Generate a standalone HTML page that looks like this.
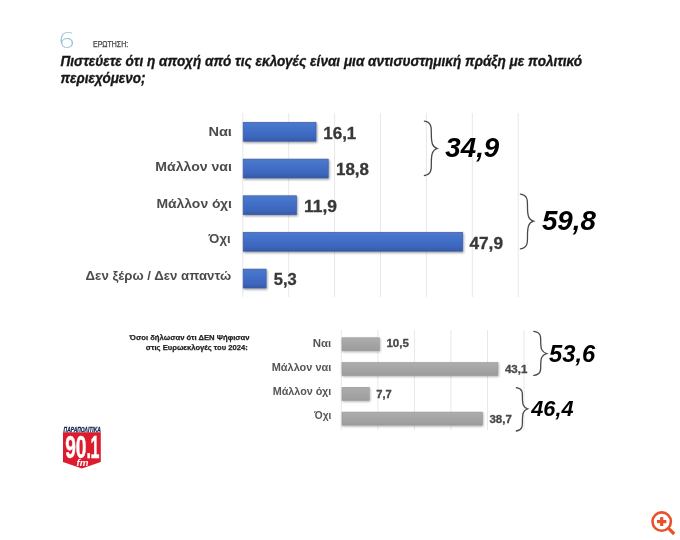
<!DOCTYPE html>
<html lang="el"><head><meta charset="utf-8"><title>Ερώτηση 6</title>
<style>
html,body{margin:0;padding:0;background:#fff;}
body{width:680px;height:540px;overflow:hidden;}
svg{display:block;font-family:"Liberation Sans", sans-serif;}
</style></head><body>
<svg width="680" height="540" viewBox="0 0 680 540">
<defs>
<linearGradient id="bg" x1="0" y1="0" x2="0" y2="1"><stop offset="0" stop-color="#5079c4"/><stop offset="0.2" stop-color="#4675cd"/><stop offset="0.8" stop-color="#3b65bc"/><stop offset="1" stop-color="#38589f"/></linearGradient>
<linearGradient id="gg" x1="0" y1="0" x2="0" y2="1"><stop offset="0" stop-color="#adadad"/><stop offset="1" stop-color="#9c9c9c"/></linearGradient>
<filter id="sh" x="-10%" y="-30%" width="120%" height="180%"><feDropShadow dx="0.8" dy="1.2" stdDeviation="1.1" flood-color="#000" flood-opacity="0.42"/></filter>
<filter id="sh2" x="-10%" y="-30%" width="120%" height="180%"><feDropShadow dx="0.6" dy="1" stdDeviation="0.9" flood-color="#000" flood-opacity="0.3"/></filter>
<filter id="soft" x="0" y="0" width="100%" height="100%" filterUnits="userSpaceOnUse"><feGaussianBlur stdDeviation="0.5"/></filter>
</defs>
<rect width="680" height="540" fill="#fff"/>
<g filter="url(#soft)">
<line x1="242.8" y1="113" x2="242.8" y2="297" stroke="#e8e8e8" stroke-width="1"/>
<line x1="288.7" y1="113" x2="288.7" y2="297" stroke="#e8e8e8" stroke-width="1"/>
<line x1="334.6" y1="113" x2="334.6" y2="297" stroke="#e8e8e8" stroke-width="1"/>
<line x1="380.5" y1="113" x2="380.5" y2="297" stroke="#e8e8e8" stroke-width="1"/>
<line x1="426.4" y1="113" x2="426.4" y2="297" stroke="#e8e8e8" stroke-width="1"/>
<line x1="472.3" y1="113" x2="472.3" y2="297" stroke="#e8e8e8" stroke-width="1"/>
<line x1="518.2" y1="113" x2="518.2" y2="297" stroke="#e8e8e8" stroke-width="1"/>
<rect x="243.2" y="122.3" width="72.8" height="18.9" fill="url(#bg)" stroke="#3c5cab" stroke-width="0.7" filter="url(#sh)"/>
<text x="231.9" y="135.5" font-size="13.2" font-weight="bold" font-style="normal" fill="#4c4c4c" text-anchor="end" textLength="23.5" lengthAdjust="spacingAndGlyphs" >Ναι</text>
<text x="323.3" y="138.6" font-size="15.8" font-weight="bold" font-style="normal" fill="#383838" text-anchor="start" textLength="33" lengthAdjust="spacingAndGlyphs" stroke="#383838" stroke-width="0.3">16,1</text>
<rect x="243.2" y="159.1" width="85.0" height="18.9" fill="url(#bg)" stroke="#3c5cab" stroke-width="0.7" filter="url(#sh)"/>
<text x="231.9" y="171.1" font-size="13.2" font-weight="bold" font-style="normal" fill="#4c4c4c" text-anchor="end" textLength="76.6" lengthAdjust="spacingAndGlyphs" >Μάλλον ναι</text>
<text x="336.0" y="175.4" font-size="15.8" font-weight="bold" font-style="normal" fill="#383838" text-anchor="start" textLength="33" lengthAdjust="spacingAndGlyphs" stroke="#383838" stroke-width="0.3">18,8</text>
<rect x="243.2" y="195.8" width="53.2" height="18.9" fill="url(#bg)" stroke="#3c5cab" stroke-width="0.7" filter="url(#sh)"/>
<text x="231.9" y="207.8" font-size="13.2" font-weight="bold" font-style="normal" fill="#4c4c4c" text-anchor="end" textLength="75.5" lengthAdjust="spacingAndGlyphs" >Μάλλον όχι</text>
<text x="304.0" y="212.1" font-size="15.8" font-weight="bold" font-style="normal" fill="#383838" text-anchor="start" textLength="33" lengthAdjust="spacingAndGlyphs" stroke="#383838" stroke-width="0.3">11,9</text>
<rect x="243.2" y="232.3" width="219.5" height="18.9" fill="url(#bg)" stroke="#3c5cab" stroke-width="0.7" filter="url(#sh)"/>
<text x="230.6" y="243.0" font-size="13.2" font-weight="bold" font-style="normal" fill="#4c4c4c" text-anchor="end" textLength="22" lengthAdjust="spacingAndGlyphs" >Όχι</text>
<text x="469.4" y="248.6" font-size="15.8" font-weight="bold" font-style="normal" fill="#383838" text-anchor="start" textLength="33.6" lengthAdjust="spacingAndGlyphs" stroke="#383838" stroke-width="0.3">47,9</text>
<rect x="243.2" y="269.1" width="22.9" height="18.9" fill="url(#bg)" stroke="#3c5cab" stroke-width="0.7" filter="url(#sh)"/>
<text x="231.1" y="279.8" font-size="13.2" font-weight="bold" font-style="normal" fill="#4c4c4c" text-anchor="end" textLength="145.5" lengthAdjust="spacingAndGlyphs" >Δεν ξέρω / Δεν απαντώ</text>
<text x="273.7" y="285.40000000000003" font-size="15.8" font-weight="bold" font-style="normal" fill="#383838" text-anchor="start" textLength="23" lengthAdjust="spacingAndGlyphs" stroke="#383838" stroke-width="0.3">5,3</text>
<path d="M424.4,121.1 C432.312,122.1 431.312,129.32 431.312,133.43 C431.312,143.02 432.312,147.0 437.2,148.5 C432.312,150.0 431.312,153.9 431.312,163.35 C431.312,167.4 432.312,174.5 424.4,175.5" fill="none" stroke="#4a4a4a" stroke-width="1.3" stroke-linecap="round"/>
<text x="445.3" y="157.1" font-size="27.5" font-weight="bold" font-style="italic" fill="#000" text-anchor="start" textLength="54" lengthAdjust="spacingAndGlyphs" >34,9</text>
<path d="M520.4,194.1 C528.474,195.1 527.474,202.23 527.474,206.295 C527.474,215.78 528.474,219.7 533.5,221.2 C528.474,222.7 527.474,226.73999999999998 527.474,236.435 C527.474,240.59 528.474,247.9 520.4,248.9" fill="none" stroke="#4a4a4a" stroke-width="1.3" stroke-linecap="round"/>
<text x="541.9" y="230.4" font-size="27.5" font-weight="bold" font-style="italic" fill="#000" text-anchor="start" textLength="54" lengthAdjust="spacingAndGlyphs" >59,8</text>
<line x1="341.3" y1="330" x2="341.3" y2="430" stroke="#e8e8e8" stroke-width="1"/>
<line x1="377.9" y1="330" x2="377.9" y2="430" stroke="#e8e8e8" stroke-width="1"/>
<line x1="414.4" y1="330" x2="414.4" y2="430" stroke="#e8e8e8" stroke-width="1"/>
<line x1="450.9" y1="330" x2="450.9" y2="430" stroke="#e8e8e8" stroke-width="1"/>
<line x1="487.5" y1="330" x2="487.5" y2="430" stroke="#e8e8e8" stroke-width="1"/>
<line x1="524.0" y1="330" x2="524.0" y2="430" stroke="#e8e8e8" stroke-width="1"/>
<rect x="342" y="337.8" width="37.5" height="13.1" fill="url(#gg)" stroke="#989898" stroke-width="0.6" filter="url(#sh2)"/>
<text x="331.3" y="346.8" font-size="10.4" font-weight="bold" font-style="normal" fill="#555" text-anchor="end" textLength="18.5" lengthAdjust="spacingAndGlyphs" >Ναι</text>
<text x="386.4" y="347.3" font-size="10.4" font-weight="bold" font-style="normal" fill="#484848" text-anchor="start" textLength="22.5" lengthAdjust="spacingAndGlyphs" stroke="#484848" stroke-width="0.3">10,5</text>
<rect x="342" y="362.5" width="156.0" height="13.1" fill="url(#gg)" stroke="#989898" stroke-width="0.6" filter="url(#sh2)"/>
<text x="331.3" y="370.6" font-size="10.4" font-weight="bold" font-style="normal" fill="#555" text-anchor="end" textLength="59.6" lengthAdjust="spacingAndGlyphs" >Μάλλον ναι</text>
<text x="504.9" y="372.8" font-size="10.4" font-weight="bold" font-style="normal" fill="#484848" text-anchor="start" textLength="22.5" lengthAdjust="spacingAndGlyphs" stroke="#484848" stroke-width="0.3">43,1</text>
<rect x="342" y="387.3" width="27.3" height="13.1" fill="url(#gg)" stroke="#989898" stroke-width="0.6" filter="url(#sh2)"/>
<text x="331.3" y="395.2" font-size="10.4" font-weight="bold" font-style="normal" fill="#555" text-anchor="end" textLength="58.6" lengthAdjust="spacingAndGlyphs" >Μάλλον όχι</text>
<text x="376.2" y="398.0" font-size="10.4" font-weight="bold" font-style="normal" fill="#484848" text-anchor="start" textLength="15.5" lengthAdjust="spacingAndGlyphs" stroke="#484848" stroke-width="0.3">7,7</text>
<rect x="342" y="412.1" width="140.5" height="13.1" fill="url(#gg)" stroke="#989898" stroke-width="0.6" filter="url(#sh2)"/>
<text x="331.3" y="419.3" font-size="10.4" font-weight="bold" font-style="normal" fill="#555" text-anchor="end" textLength="17" lengthAdjust="spacingAndGlyphs" >Όχι</text>
<text x="489.4" y="423.0" font-size="10.4" font-weight="bold" font-style="normal" fill="#484848" text-anchor="start" textLength="22.5" lengthAdjust="spacingAndGlyphs" stroke="#484848" stroke-width="0.3">38,7</text>
<path d="M533.8,331.4 C541.712,332.4 540.712,338.06 540.712,341.39 C540.712,349.16 541.712,352.1 546.6,353.6 C541.712,355.1 540.712,357.96000000000004 540.712,365.59 C540.712,368.86 541.712,374.4 533.8,375.4" fill="none" stroke="#4a4a4a" stroke-width="1.3" stroke-linecap="round"/>
<text x="549.0" y="362" font-size="24" font-weight="bold" font-style="italic" fill="#000" text-anchor="start" textLength="46.2" lengthAdjust="spacingAndGlyphs" >53,6</text>
<path d="M516.3,387.6 C523.402,388.6 522.402,393.96000000000004 522.402,397.14000000000004 C522.402,404.56 523.402,407.3 527.6,408.8 C523.402,410.3 522.402,413.24 522.402,421.01 C522.402,424.34 523.402,430 516.3,431" fill="none" stroke="#4a4a4a" stroke-width="1.3" stroke-linecap="round"/>
<text x="531.3" y="415.9" font-size="22" font-weight="bold" font-style="italic" fill="#000" text-anchor="start" textLength="42.2" lengthAdjust="spacingAndGlyphs" >46,4</text>
<text x="249.6" y="340.3" font-size="8" font-weight="bold" font-style="normal" fill="#222" text-anchor="end" textLength="120" lengthAdjust="spacingAndGlyphs" stroke="#222" stroke-width="0.25">Όσοι δήλωσαν ότι ΔΕΝ Ψήφισαν</text>
<text x="247.8" y="350.2" font-size="8" font-weight="bold" font-style="normal" fill="#222" text-anchor="end" textLength="102" lengthAdjust="spacingAndGlyphs" stroke="#222" stroke-width="0.25">στις Ευρωεκλογές του 2024:</text>
<text x="57.8" y="47.7" font-size="22" font-weight="200" font-style="normal" fill="#9cc2d9" text-anchor="start" textLength="17.8" lengthAdjust="spacingAndGlyphs" font-family="DejaVu Sans Light, DejaVu Sans, sans-serif">6</text>
<text x="93" y="46.5" font-size="8.2" font-weight="normal" font-style="normal" fill="#444" text-anchor="start" textLength="35.2" lengthAdjust="spacingAndGlyphs" stroke="#444" stroke-width="0.25">ΕΡΩΤΗΣΗ:</text>
<text x="60.6" y="66.0" font-size="14.9" font-weight="bold" font-style="italic" fill="#161616" text-anchor="start" textLength="521.5" lengthAdjust="spacingAndGlyphs" stroke="#161616" stroke-width="0.35">Πιστεύετε ότι η αποχή από τις εκλογές είναι μια αντισυστημική πράξη με πολιτικό</text>
<text x="60.5" y="82.9" font-size="14.9" font-weight="bold" font-style="italic" fill="#161616" text-anchor="start" textLength="85" lengthAdjust="spacingAndGlyphs" stroke="#161616" stroke-width="0.35">περιεχόμενο;</text>
<g id="logo">
<path d="M63,432.3 H100.8 V462 L81.9,468.6 L63,462 Z" fill="#dc1f2e"/>
<text x="63.6" y="432.1" font-size="7.4" font-weight="bold" font-style="italic" fill="#18234f" text-anchor="start" textLength="37.2" lengthAdjust="spacingAndGlyphs" stroke="#18234f" stroke-width="0.3">ΠΑΡΑΠΟΛΙΤΙΚΑ</text>
<g font-size="32" font-weight="bold" fill="#fff" stroke="#fff" stroke-width="0.5"><text transform="translate(65.2,458.1) scale(0.6,1)">90</text><text transform="translate(86.5,458.1) scale(0.5,1)">.</text><text transform="translate(90.4,458.1) scale(0.5,1)">1</text></g>
<text x="76.6" y="466.2" font-size="8.8" font-weight="bold" font-style="italic" fill="#fff" text-anchor="start" textLength="12" lengthAdjust="spacingAndGlyphs" >fm</text>
</g>
</g>
<g id="zoom" stroke="#e8522b" fill="none"><circle cx="661.7" cy="521.6" r="9.2" stroke-width="2.6"/><line x1="668.6" y1="528.4" x2="674.2" y2="534" stroke-width="3.2" stroke-linecap="butt"/><line x1="657" y1="521.6" x2="666.4" y2="521.6" stroke-width="3.2"/><line x1="661.7" y1="517.1" x2="661.7" y2="526" stroke-width="3.2"/></g>
</svg>
</body></html>
